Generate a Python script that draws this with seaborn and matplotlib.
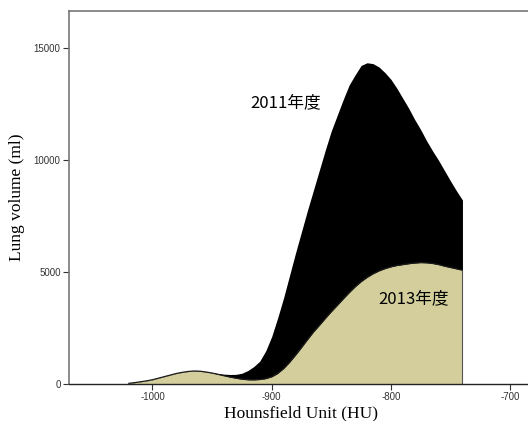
import matplotlib
matplotlib.use("Agg")
import matplotlib.pyplot as plt
import seaborn as sns
import pandas as pd

# Data (5 HU steps)
hu = [-1020, -1015, -1010, -1005, -1000, -995, -990, -985, -980, -975,
      -970, -965, -960, -955, -950, -945, -940, -935, -930, -925,
      -920, -915, -910, -905, -900, -895, -890, -885, -880, -875,
      -870, -865, -860, -855, -850, -845, -840, -835, -830, -825,
      -820, -815, -810, -805, -800, -795, -790, -785, -780, -775,
      -770, -765, -760, -755, -750, -745, -740]
vol_2011 = [30, 60, 100, 140, 190, 260, 330, 400, 470, 520,
            560, 580, 575, 545, 505, 470, 440, 425, 430, 480,
            600, 780, 1020, 1480, 2120, 2950, 3850, 4850, 5850, 6800,
            7750, 8650, 9550, 10450, 11300, 12000, 12700, 13350, 13800, 14220,
            14340, 14300, 14150, 13900, 13600, 13200, 12750, 12300, 11800, 11350,
            10850, 10400, 9980, 9520, 9060, 8620, 8214]
vol_2013 = [30, 60, 100, 140, 190, 260, 330, 400, 470, 520,
            560, 580, 570, 535, 490, 430, 370, 310, 260, 215,
            190, 185, 200, 240, 320, 470, 690, 970, 1290, 1630,
            1980, 2320, 2620, 2930, 3230, 3510, 3800, 4080, 4340, 4570,
            4760, 4920, 5050, 5150, 5230, 5290, 5330, 5370, 5400, 5420,
            5410, 5380, 5330, 5260, 5200, 5140, 5080]
label_2011 = "2011年度"
label_2013 = "2013年度"
xticks = [-1000, -900, -800, -700]
yticks = [0, 5000, 10000, 15000]

df = pd.DataFrame({"hu": hu, "v2011": vol_2011, "v2013": vol_2013})

sns.set_theme(style="white")
plt.rcParams['font.family'] = ['Liberation Sans', 'DejaVu Sans']

fig = plt.figure(figsize=(5.28, 4.21), dpi=100)
ax = fig.add_axes([69 / 528, 37 / 421, 465 / 528, 373 / 421])

tan = "#D3CE9C"
ax.fill_between(df["hu"], 0, df["v2011"], color="black", linewidth=0)
ax.fill_between(df["hu"], 0, df["v2013"], color=tan, linewidth=0)
sns.lineplot(data=df, x="hu", y="v2013", ax=ax, color="#1a1a1a", linewidth=0.9)
ax.vlines(df["hu"].iloc[-1], 0, df["v2013"].iloc[-1], color="#555555", linewidth=0.8)

ax.set_xlim(-1070, -680)
ax.set_ylim(0, 16650)
ax.set_xticks(xticks)
ax.set_yticks(yticks)
ax.set_xticklabels([str(t) for t in xticks])
ax.set_yticklabels([str(t) for t in yticks])

ax.tick_params(axis="both", which="major", direction="out", length=4, width=0.8,
               labelsize=7, colors="#333333", pad=2, left=True, bottom=True)

for s in ["left", "top"]:
    ax.spines[s].set_color("#777777")
    ax.spines[s].set_linewidth(1.2)
ax.spines["bottom"].set_color("#222222")
ax.spines["bottom"].set_linewidth(1.0)
ax.spines["right"].set_visible(False)

ax.set_xlabel("Hounsfield Unit (HU)", family="Liberation Serif", fontsize=12.5,
              color="black", labelpad=2)
ax.set_ylabel("Lung volume (ml)", family="Liberation Serif", fontsize=12.5,
              color="black", labelpad=6)

cjk = ['Noto Sans CJK JP', 'DejaVu Sans']
ax.text(-888.5, 12545, label_2011, family=cjk, fontsize=12, ha="center", va="center", color="black")
ax.text(-781, 3795, label_2013, family=cjk, fontsize=12, ha="center", va="center", color="black")

fig.savefig("out.png", dpi=100)
